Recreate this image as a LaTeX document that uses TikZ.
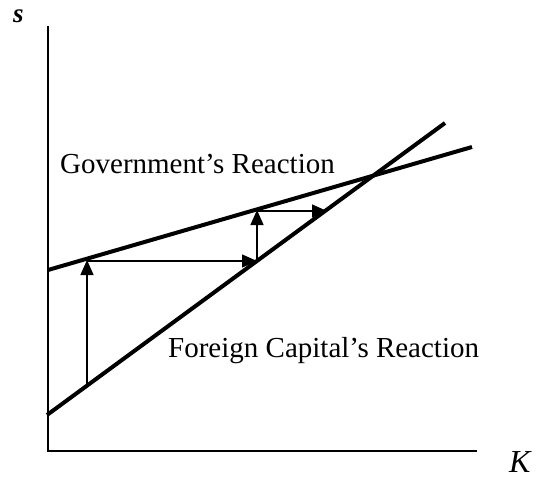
\documentclass[tikz,border=0pt]{standalone}
\usepackage{fontspec}
\setmainfont{Liberation Serif}
\usetikzlibrary{arrows.meta}
\begin{document}
\begin{tikzpicture}[x=1pt,y=-1pt,
  axis/.style={line width=2pt,line join=miter},
  curve/.style={line width=4pt},
  stepline/.style={line width=1.4pt,-{Triangle[length=15pt,width=13pt]}},
  lbl/.style={anchor=base west,inner sep=0pt,font=\fontsize{29}{34}\selectfont}]
\useasboundingbox (0,0) rectangle (536,479);
% axes
\coordinate (ytop) at (48,26);
\coordinate (orig) at (48,451);
\coordinate (xend) at (477,451);
\draw[axis] (ytop) -- (orig) -- (xend);
% reaction lines
\coordinate (f0) at (47,415);
\coordinate (f1) at (445,123);
\coordinate (g0) at (48,270);
\coordinate (g1) at (472,147);
\draw[curve] (f0) -- (f1);
\draw[curve] (g0) -- (g1);
% adjustment arrows
\coordinate (a0) at (87,385);
\coordinate (a1) at (87,260);
\coordinate (b0) at (87,261);
\coordinate (b1) at (257,261);
\coordinate (c1) at (257,210);
\coordinate (d0) at (257,211);
\coordinate (d1) at (327,211);
\draw[stepline] (a0) -- (a1);
\draw[stepline] (b0) -- (b1);
\draw[stepline] (b1) -- (c1);
\draw[stepline] (d0) -- (d1);
% labels
\node[lbl] (gov) at (60,173) {Government’s Reaction};
\node[lbl] (for) at (168,357) {Foreign Capital’s Reaction};
\node[lbl,font=\fontsize{27}{32}\selectfont\bfseries\itshape] (s) at (13,23) {s};
\node[lbl,font=\fontsize{32}{38}\selectfont\itshape] (k) at (509,472) {K};
\end{tikzpicture}
\end{document}
